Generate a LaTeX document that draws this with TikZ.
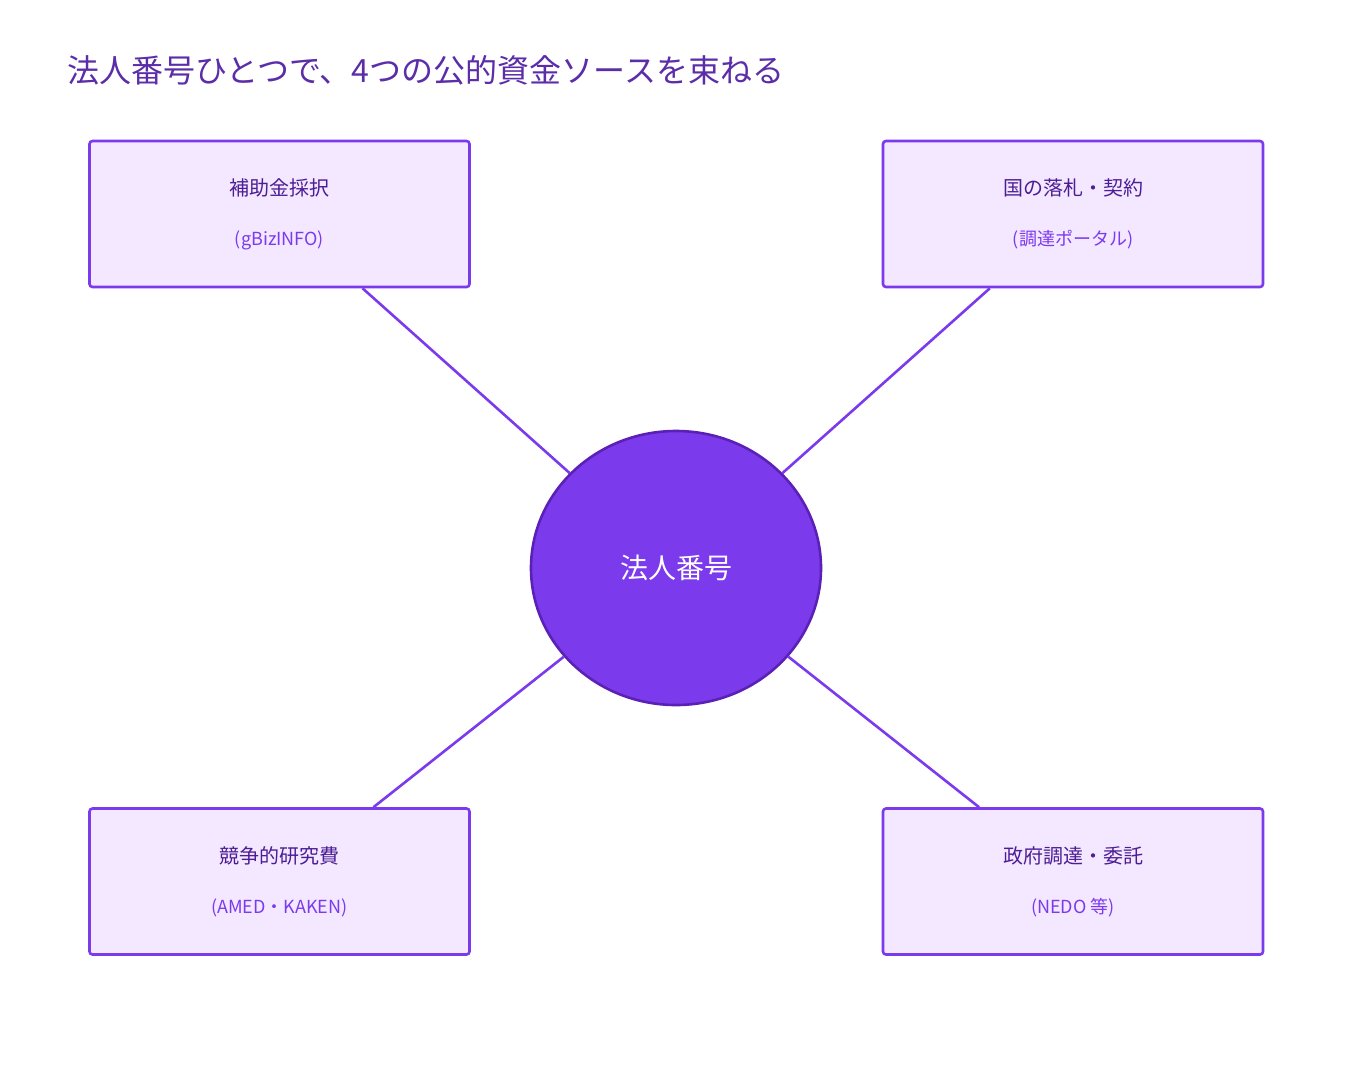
\documentclass[tikz,border=0pt]{standalone}
\usepackage{fontspec}
\setmainfont{Noto Sans CJK JP}
\usetikzlibrary{shapes.geometric}

\definecolor{boxfill}{HTML}{F3E8FF}
\definecolor{boxline}{HTML}{7C3AED}
\definecolor{hubfill}{HTML}{7C3AED}
\definecolor{hubline}{HTML}{5B21B6}
\definecolor{titletext}{HTML}{5B2DA8}
\definecolor{mainlabel}{HTML}{4C1D95}

\tikzset{
    source/.style={draw=boxline, fill=boxfill, line width=1.3pt, rounded corners=1.5pt,
        minimum width=190pt, minimum height=73pt, align=center, inner sep=0pt},
    hub/.style={ellipse, draw=hubline, fill=hubfill, line width=1.3pt,
        minimum width=145pt, minimum height=137pt, text=white, font=\fontsize{14}{16}\selectfont},
    link/.style={draw=boxline, line width=1.3pt}
}

\newcommand{\srclabel}[2]{{\color{mainlabel}\fontsize{10}{12}\selectfont #1}\\[13pt]{\color{boxline}\fontsize{9}{11}\selectfont #2}}

\begin{document}
\begin{tikzpicture}[x=0.5pt, y=-0.5pt]

    \useasboundingbox[fill=white] (0,0) rectangle (1353,1077);

    % Title
    \node[anchor=west, text=titletext, font=\fontsize{16}{18}\selectfont, inner sep=0pt] (title) at (67,70) {法人番号ひとつで、4つの公的資金ソースを束ねる};

    % Hub
    \node[hub] (hub) at (676,568) {法人番号};

    % Sources
    \node[source] (subsidy) at (279.5,214) {\srclabel{補助金採択}{(gBizINFO)}};
    \node[source] (bid) at (1073,214) {\srclabel{国の落札・契約}{(調達ポータル)}};
    \node[source] (research) at (279.5,881.5) {\srclabel{競争的研究費}{(AMED・KAKEN)}};
    \node[source] (procure) at (1073,881.5) {\srclabel{政府調達・委託}{(NEDO 等)}};

    % Links
    \foreach \s in {subsidy, bid, research, procure}
        \draw[link] (\s) -- (hub);

\end{tikzpicture}
\end{document}
